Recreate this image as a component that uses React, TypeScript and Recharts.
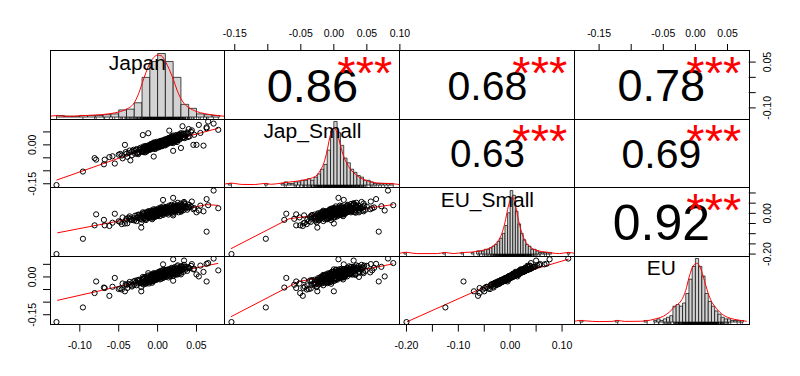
import React from "react";
import { ComposedChart, XAxis, YAxis, Scatter, Line, ReferenceArea } from "recharts";

// monthly returns, one entry per observation (same order in every array)
const japan = [
  -0.130, -0.096, -0.081, -0.079, -0.055, -0.069, -0.062, -0.068, -0.042, -0.021,
  0.072, 0.078, 0.065, 0.063, 0.053, 0.063, 0.059, 0.046, 0.050, 0.032,
  0.020, 0.007, 0.034, -0.019, -0.012, 0.020, -0.050, -0.046, -0.058, 0.044,
  0.055, 0.040, -0.035, 0.015, -0.005, 0.030,
  -0.048, -0.045, -0.041, -0.039, -0.036, -0.033, -0.031, -0.029, -0.027, -0.026,
  -0.024, -0.022, -0.021, -0.019, -0.018, -0.018, -0.017, -0.016, -0.015, -0.015,
  -0.014, -0.013, -0.012, -0.012, -0.011, -0.010, -0.009, -0.009, -0.008, -0.008,
  -0.007, -0.007, -0.006, -0.005, -0.005, -0.004, -0.004, -0.003, -0.003, -0.002,
  -0.002, -0.001, -0.001, 0.000, 0.001, 0.001, 0.002, 0.002, 0.003, 0.003,
  0.004, 0.004, 0.005, 0.005, 0.006, 0.006, 0.007, 0.007, 0.008, 0.008,
  0.009, 0.009, 0.010, 0.010, 0.011, 0.011, 0.012, 0.013, 0.013, 0.014,
  0.015, 0.015, 0.016, 0.017, 0.017, 0.018, 0.018, 0.019, 0.019, 0.020,
  0.020, 0.021, 0.022, 0.023, 0.024, 0.025, 0.025, 0.026, 0.027, 0.028,
  0.028, 0.029, 0.030, 0.032, 0.034, 0.036, 0.038, 0.039, 0.043, 0.047,
  -0.037, -0.030, -0.025, -0.023, -0.020, -0.017, -0.016, -0.014, -0.013, -0.011,
  -0.010, -0.009, -0.008, -0.006, -0.005, -0.004, -0.003, -0.002, -0.001, 0.000,
  0.001, 0.002, 0.003, 0.004, 0.005, 0.006, 0.007, 0.008, 0.009, 0.010,
  0.011, 0.012, 0.013, 0.014, 0.016, 0.017, 0.018, 0.019, 0.021, 0.022,
  0.023, 0.024, 0.026, 0.027, 0.029, 0.031, 0.033, 0.035, 0.039, 0.041,
  -0.028, -0.026, -0.022, -0.019, -0.018, -0.016, -0.015, -0.013, -0.012, -0.010,
  -0.009, -0.008, -0.007, -0.006, -0.005, -0.004, -0.003, -0.002, -0.001, 0.000,
  0.001, 0.002, 0.003, 0.004, 0.005, 0.006, 0.007, 0.008, 0.009, 0.010,
  0.011, 0.012, 0.013, 0.014, 0.015, 0.016, 0.017, 0.018, 0.020, 0.021,
  0.022, 0.024, 0.025, 0.027, 0.028, 0.030, 0.033, 0.036, -0.033, -0.040,
];

const japSmall = [
  -0.155, -0.103, -0.051, -0.057, -0.072, -0.075, -0.047, -0.057, 0.000, -0.025,
  0.082, 0.058, 0.090, 0.068, 0.077, 0.064, -0.003, 0.000, 0.000, 0.072,
  0.007, 0.015, 0.030, 0.038, 0.045, -0.023, -0.038, -0.041, -0.044, 0.056,
  0.046, 0.061, -0.060, 0.055, -0.045, -0.012,
  -0.035, -0.052, -0.028, -0.046, -0.022, -0.040, -0.019, -0.034, -0.016, -0.030,
  -0.029, -0.011, -0.026, -0.024, -0.006, -0.028, -0.013, -0.020, -0.004, -0.019,
  -0.025, -0.009, -0.016, -0.002, -0.018, -0.012, -0.003, -0.017, -0.008, 0.004,
  -0.014, -0.002, -0.011, 0.006, -0.006, -0.015, 0.001, -0.004, 0.009, -0.009,
  0.003, -0.001, 0.012, -0.007, 0.005, -0.003, 0.010, -0.008, 0.002, 0.014,
  -0.002, 0.008, 0.000, 0.016, -0.005, 0.006, 0.011, 0.003, -0.001, 0.018,
  0.007, 0.001, 0.013, 0.022, 0.006, 0.019, 0.010, 0.024, 0.004, 0.015,
  0.027, 0.009, 0.017, 0.029, 0.008, 0.021, 0.033, 0.012, 0.025, 0.016,
  0.036, 0.020, 0.030, 0.014, 0.038, 0.023, 0.011, 0.034, 0.026, 0.041,
  0.020, 0.031, 0.045, 0.027, 0.042, 0.035, 0.048, 0.030, 0.050, 0.039,
  -0.031, -0.023, -0.036, -0.015, -0.022, -0.008, -0.029, -0.011, -0.021, -0.005,
  -0.019, 0.002, -0.012, -0.004, 0.009, -0.008, -0.016, 0.005, -0.004, 0.008,
  -0.010, 0.003, 0.009, -0.006, 0.012, 0.000, 0.017, 0.005, 0.014, -0.002,
  0.015, 0.020, 0.007, 0.026, 0.013, 0.020, 0.010, 0.030, 0.015, 0.028,
  0.035, 0.019, 0.029, 0.038, 0.024, 0.037, 0.044, 0.026, 0.044, 0.033,
  -0.020, -0.033, -0.019, -0.012, -0.024, -0.010, -0.022, -0.006, -0.014, -0.003,
  -0.015, 0.001, -0.009, 0.004, -0.013, 0.003, -0.006, 0.006, -0.009, 0.002,
  0.011, -0.004, 0.006, 0.015, -0.001, 0.009, 0.000, 0.013, 0.004, 0.017,
  0.002, 0.014, 0.021, 0.009, 0.019, 0.024, 0.011, 0.027, 0.022, 0.012,
  0.032, 0.025, 0.017, 0.033, 0.023, 0.039, 0.030, 0.041, -0.026, -0.034,
];

const euSmall = [
  -0.200, -0.125, -0.059, -0.005, -0.002, -0.032, -0.062, -0.059, -0.050, -0.070,
  0.112, 0.025, 0.040, -0.090, 0.014, 0.070, 0.010, 0.020, 0.005, 0.035,
  0.076, 0.066, 0.050, 0.005, 0.010, -0.010, -0.039, -0.053, -0.046, 0.058,
  0.038, 0.029, -0.027, 0.020, -0.010, 0.008,
  -0.042, -0.020, -0.036, -0.049, -0.015, -0.030, -0.024, -0.012, -0.038, -0.021,
  -0.006, -0.028, -0.044, -0.017, -0.002, -0.026, -0.010, 0.004, -0.033, -0.014,
  -0.005, -0.020, 0.009, -0.011, -0.023, 0.001, -0.016, 0.006, -0.007, 0.014,
  -0.029, 0.000, -0.013, 0.008, 0.020, -0.004, -0.019, 0.005, -0.009, 0.011,
  -0.002, 0.017, 0.003, -0.012, 0.009, 0.024, -0.005, 0.002, 0.015, -0.014,
  0.007, 0.029, -0.003, 0.012, 0.004, 0.019, -0.008, 0.034, 0.010, 0.006,
  0.022, -0.001, 0.014, 0.026, 0.008, 0.032, 0.000, 0.017, 0.025, -0.006,
  0.011, 0.038, 0.007, 0.021, 0.013, 0.042, 0.003, 0.028, 0.016, -0.002,
  0.030, 0.019, 0.045, 0.009, 0.024, 0.035, 0.014, 0.052, 0.005, 0.027,
  0.039, 0.016, 0.048, 0.022, 0.056, 0.031, 0.018, 0.044, 0.033, 0.026,
  -0.022, -0.035, -0.018, -0.009, -0.031, -0.024, -0.015, 0.002, -0.008, -0.018,
  -0.003, -0.010, 0.010, -0.022, -0.006, 0.007, 0.013, -0.015, 0.004, 0.010,
  -0.009, 0.020, 0.001, 0.016, 0.006, 0.026, -0.002, 0.012, 0.003, 0.018,
  0.023, 0.005, 0.014, 0.029, 0.009, 0.035, 0.019, 0.008, 0.026, 0.013,
  0.033, 0.021, 0.040, 0.017, 0.029, 0.038, 0.015, 0.046, 0.030, 0.041,
  -0.025, -0.008, -0.020, -0.012, 0.000, -0.029, -0.007, -0.016, 0.006, -0.013,
  -0.001, -0.020, 0.009, -0.005, 0.003, -0.011, 0.018, 0.002, -0.006, 0.008,
  -0.003, 0.012, 0.022, 0.000, 0.015, 0.004, 0.024, 0.009, 0.017, 0.002,
  0.013, 0.027, 0.010, 0.020, 0.004, 0.016, 0.030, 0.011, 0.023, 0.036,
  0.007, 0.028, 0.018, 0.034, 0.025, 0.012, 0.039, 0.024, -0.033, -0.026,
];

const eu = [
  -0.179, -0.121, -0.064, -0.018, -0.004, -0.042, -0.075, -0.044, -0.057, -0.057,
  0.073, 0.026, 0.055, -0.018, 0.002, 0.052, 0.020, 0.030, 0.010, 0.040,
  0.070, 0.050, 0.065, 0.000, 0.015, -0.015, -0.048, -0.050, -0.039, 0.051,
  0.045, 0.036, -0.031, 0.018, -0.013, 0.010,
  -0.046, -0.026, -0.029, -0.044, -0.020, -0.034, -0.018, -0.015, -0.033, -0.025,
  -0.011, -0.022, -0.040, -0.020, -0.007, -0.030, -0.008, 0.000, -0.027, -0.016,
  -0.012, -0.015, 0.006, -0.006, -0.026, -0.003, -0.011, 0.002, -0.010, 0.009,
  -0.023, 0.004, -0.016, 0.012, 0.015, -0.008, -0.014, 0.001, -0.005, 0.014,
  -0.006, 0.011, 0.007, -0.009, 0.005, 0.020, -0.001, 0.006, 0.018, -0.010,
  0.003, 0.024, -0.007, 0.015, 0.009, 0.014, -0.004, 0.028, 0.006, 0.010,
  0.025, 0.003, 0.010, 0.021, 0.012, 0.027, 0.005, 0.013, 0.029, -0.002,
  0.016, 0.031, 0.004, 0.024, 0.018, 0.036, 0.008, 0.022, 0.011, 0.004,
  0.035, 0.026, 0.039, 0.013, 0.020, 0.042, 0.009, 0.046, 0.012, 0.033,
  0.034, 0.023, 0.041, 0.029, 0.048, 0.037, 0.024, 0.039, 0.044, 0.032,
  -0.028, -0.030, -0.014, -0.016, -0.026, -0.021, -0.019, -0.002, -0.004, -0.020,
  -0.009, -0.006, 0.007, -0.018, -0.002, 0.003, 0.008, -0.011, 0.009, 0.005,
  -0.005, 0.016, -0.003, 0.012, 0.011, 0.022, 0.003, 0.016, -0.001, 0.013,
  0.028, 0.002, 0.019, 0.025, 0.014, 0.030, 0.015, 0.013, 0.031, 0.009,
  0.028, 0.027, 0.035, 0.021, 0.024, 0.043, 0.020, 0.040, 0.036, 0.034,
  -0.022, -0.013, -0.024, -0.008, -0.005, -0.025, -0.010, -0.013, 0.002, -0.017,
  0.003, -0.015, 0.005, -0.009, 0.007, -0.007, 0.013, -0.002, -0.010, 0.012,
  0.001, 0.008, 0.019, 0.004, 0.011, 0.000, 0.020, 0.013, 0.021, 0.006,
  0.009, 0.023, 0.014, 0.024, 0.009, 0.012, 0.026, 0.016, 0.019, 0.032,
  0.011, 0.033, 0.014, 0.029, 0.030, 0.017, 0.033, 0.029, -0.038, -0.032,
];

const names = ["Japan", "Jap_Small", "EU_Small", "EU"];

// histogram bar heights on the density scale (tallest bar = 40)
const japanBinStart = -0.13;
const japanBinWidth = 0.01;
const japanBars = [1, 0.5, 0.5, 1, 1, 1, 1.5, 2, 4.5, 5, 9, 25, 35, 40, 35, 25, 8, 5.5, 2, 1.5, 1];

const japSmallBinStart = -0.16;
const japSmallBinWidth = 0.005;
const japSmallBars = [
  1, 0, 0, 0, 0, 0, 0, 0, 0, 0, 0, 1, 0, 0, 0, 0,
  1, 2, 1, 1, 2, 2, 3, 3, 4, 3, 5, 7, 10, 13, 22, 34, 40, 33, 25, 17, 14, 10, 8, 6, 5, 3, 3, 2, 1, 1, 1, 1, 1, 1,
];

const euSmallBinStart = -0.205;
const euSmallBinWidth = 0.005;
const euSmallBars = [
  1, 0, 0, 0, 0, 0, 0, 0, 0, 0, 0, 0, 0, 0, 0, 1, 0, 0, 0, 0, 0, 0, 1, 0, 0, 0,
  1, 0, 2, 2, 2, 3, 3, 4, 5, 6, 8, 10, 13, 18, 26, 40, 37, 27, 19, 13, 9, 6, 5, 3, 3, 2, 1, 1, 1, 1, 1,
  0, 0, 0, 0, 0, 0, 1,
];

const euBinStart = -0.18;
const euBinWidth = 0.005;
const euBars = [
  1, 0, 0, 0, 0, 0, 0, 0, 0, 0, 0, 1, 0, 0, 0, 0, 0, 0, 0, 0,
  1, 0, 0, 1, 2, 1, 2, 3, 4, 10, 11, 10, 12, 18, 27, 35, 40, 35, 29, 18, 13, 10, 7, 5, 3, 2, 2, 1, 1, 1, 1,
];

// kernel density curves [x, height on the same scale as the bars]
const japanDens = [
  [-0.14, 0.4], [-0.13, 0.9], [-0.12, 0.6], [-0.11, 0.5], [-0.1, 0.8], [-0.09, 1.0], [-0.08, 1.3],
  [-0.07, 1.6], [-0.06, 2.2], [-0.05, 3.2], [-0.04, 5.0], [-0.03, 9.0], [-0.025, 14], [-0.02, 21],
  [-0.015, 28], [-0.01, 34], [-0.005, 37.5], [0, 39], [0.005, 38.5], [0.01, 35], [0.015, 30],
  [0.02, 24], [0.025, 17], [0.03, 11.5], [0.035, 8], [0.04, 6], [0.05, 3.5], [0.06, 2.2],
  [0.07, 1.4], [0.08, 0.8], [0.09, 0.3],
];
const japSmallDens = [
  [-0.17, 0.3], [-0.16, 1.0], [-0.155, 1.2], [-0.15, 1.0], [-0.14, 0.4], [-0.12, 0.3], [-0.105, 1.0],
  [-0.095, 0.5], [-0.085, 0.9], [-0.075, 1.5], [-0.065, 2.0], [-0.055, 2.5], [-0.045, 3.2],
  [-0.035, 4.2], [-0.025, 6.5], [-0.02, 9.5], [-0.015, 14], [-0.01, 22], [-0.005, 32], [0, 36],
  [0.005, 33], [0.01, 25], [0.015, 18], [0.02, 13.5], [0.025, 10], [0.03, 7.8], [0.035, 6],
  [0.04, 4.5], [0.05, 2.8], [0.06, 1.6], [0.07, 1.2], [0.08, 1.0], [0.09, 0.8], [0.1, 0.3],
];
const euSmallDens = [
  [-0.215, 0.3], [-0.205, 1.0], [-0.2, 1.1], [-0.195, 0.9], [-0.18, 0.3], [-0.14, 0.3], [-0.125, 1.0],
  [-0.11, 0.3], [-0.09, 1.0], [-0.075, 1.2], [-0.065, 1.6], [-0.055, 2.2], [-0.045, 3.0],
  [-0.035, 4.5], [-0.025, 7.5], [-0.02, 10], [-0.015, 14], [-0.01, 20], [-0.005, 28], [0, 34],
  [0.004, 36], [0.01, 31], [0.015, 23], [0.02, 16], [0.025, 11], [0.03, 7.5], [0.035, 5.5],
  [0.04, 4.0], [0.05, 2.4], [0.06, 1.6], [0.07, 1.2], [0.08, 0.7], [0.095, 0.3], [0.112, 1.0], [0.125, 0.4],
];
const euDens = [
  [-0.19, 0.3], [-0.18, 1.0], [-0.17, 0.7], [-0.15, 0.3], [-0.13, 0.4], [-0.121, 1.0], [-0.11, 0.4],
  [-0.085, 0.5], [-0.07, 1.2], [-0.06, 2.2], [-0.05, 3.6], [-0.04, 6.5], [-0.035, 8.5], [-0.03, 10.5],
  [-0.025, 12], [-0.02, 15], [-0.015, 20], [-0.01, 28], [-0.005, 34], [0.002, 37], [0.008, 34],
  [0.012, 29], [0.02, 18], [0.025, 13], [0.03, 10], [0.04, 5.5], [0.05, 3], [0.06, 1.8], [0.07, 1.0], [0.08, 0.5],
];

// lowess smooths [x, y]
const smoothJapanJapSmall = [[-0.13, -0.136], [-0.06, -0.062], [0, 0], [0.04, 0.034], [0.078, 0.064]];
const smoothJapanEuSmall = [[-0.129, -0.096], [-0.06, -0.045], [0, -0.004], [0.04, 0.025], [0.063, 0.043], [0.078, 0.039]];
const smoothJapanEu = [[-0.129, -0.093], [-0.06, -0.045], [0, -0.002], [0.04, 0.03], [0.078, 0.054]];
const smoothJapSmallEuSmall = [[-0.156, -0.174], [-0.068, -0.027], [-0.03, -0.01], [0, 0.004], [0.04, 0.02], [0.09, 0.043]];
const smoothJapSmallEu = [[-0.156, -0.158], [-0.053, -0.018], [0, 0.006], [0.09, 0.052]];
const smoothEuSmallEu = [[-0.199, -0.178], [-0.06, -0.05], [0, 0.002], [0.113, 0.071]];

// correlations, upper triangle in order (1,2) (1,3) (1,4) (2,3) (2,4) (3,4)
const corValues = ["0.86", "0.68", "0.78", "0.63", "0.69", "0.92"];
const corStars = ["***", "***", "***", "***", "***", "***"];

// axis ticks and which of them carry a label
const japanTicks = [-0.1, -0.05, 0, 0.05];
const japanBottomLabels = [-0.1, -0.05, 0, 0.05];
const japanRightLabels = [0.05, -0.1];
const japSmallTopTicks = [-0.15, -0.1, -0.05, 0, 0.05, 0.1];
const japSmallTopLabels = [-0.15, -0.05, 0, 0.05, 0.1];
const japSmallLeftTicks = [-0.15, -0.1, -0.05, 0, 0.05];
const japSmallLeftLabels = [0, -0.15];
const euSmallTicks = [-0.2, -0.15, -0.1, -0.05, 0, 0.05, 0.1];
const euSmallBottomLabels = [-0.2, -0.1, 0, 0.1];
const euSmallRightLabels = [0, -0.2];
const euTicks = [-0.15, -0.1, -0.05, 0, 0.05];
const euTopLabels = [-0.15, -0.05, 0, 0.05];
const euLeftLabels = [0, -0.15];

const W = 174.75;
const H = 68.6;
const X0 = 50;
const Y0 = 50.5;
const PAD = 40;
const AXIS = 20;
const FONT = "'Liberation Sans', Arial, Helvetica, sans-serif";
const corFontSize = [47, 41, 45, 38.5, 41, 50];

const series = [japan, japSmall, euSmall, eu];

// R pads the data range by 4% on each side
function padRange(v: number[]): [number, number] {
  const lo = Math.min(...v);
  const hi = Math.max(...v);
  const d = (hi - lo) * 0.04;
  return [lo - d, hi + d];
}
const domains = series.map(padRange);

const hists = [
  { start: japanBinStart, width: japanBinWidth, bars: japanBars, dens: japanDens },
  { start: japSmallBinStart, width: japSmallBinWidth, bars: japSmallBars, dens: japSmallDens },
  { start: euSmallBinStart, width: euSmallBinWidth, bars: euSmallBars, dens: euSmallDens },
  { start: euBinStart, width: euBinWidth, bars: euBars, dens: euDens },
];

const smooths: Record<string, number[][]> = {
  "1-0": smoothJapanJapSmall,
  "2-0": smoothJapanEuSmall,
  "3-0": smoothJapanEu,
  "2-1": smoothJapSmallEuSmall,
  "3-1": smoothJapSmallEu,
  "3-2": smoothEuSmallEu,
};
const corOrder = ["0-1", "0-2", "0-3", "1-2", "1-3", "2-3"];

type AxisSpec = { side: "top" | "bottom" | "left" | "right"; ticks: number[]; labels: number[] };

function xAxisFor(row: number, col: number): AxisSpec | null {
  if (row === 0 && col === 1) return { side: "top", ticks: japSmallTopTicks, labels: japSmallTopLabels };
  if (row === 0 && col === 3) return { side: "top", ticks: euTicks, labels: euTopLabels };
  if (row === 3 && col === 0) return { side: "bottom", ticks: japanTicks, labels: japanBottomLabels };
  if (row === 3 && col === 2) return { side: "bottom", ticks: euSmallTicks, labels: euSmallBottomLabels };
  return null;
}

function yAxisFor(row: number, col: number): AxisSpec | null {
  if (col === 0 && row === 1) return { side: "left", ticks: japSmallLeftTicks, labels: japSmallLeftLabels };
  if (col === 0 && row === 3) return { side: "left", ticks: euTicks, labels: euLeftLabels };
  if (col === 3 && row === 0) return { side: "right", ticks: japanTicks, labels: japanRightLabels };
  if (col === 3 && row === 2) return { side: "right", ticks: euSmallTicks, labels: euSmallRightLabels };
  return null;
}

function tickRenderer(side: string, labels: number[]) {
  return (p: any) => {
    const v = Number(p.payload.value);
    if (!labels.some((l) => Math.abs(l - v) < 1e-9)) return <g />;
    const t = v.toFixed(2);
    const common = { fontSize: 10.5, fontFamily: FONT, fill: "#000", textAnchor: "middle" as const };
    if (side === "top") return <text x={p.x} y={p.y - 7.2} {...common}>{t}</text>;
    if (side === "bottom") return <text x={p.x} y={p.y + 17.8} {...common}>{t}</text>;
    const bx = side === "left" ? p.x - 7 : p.x + 15.4;
    return (
      <text x={bx} y={p.y} transform={`rotate(-90 ${bx} ${p.y})`} {...common}>
        {t}
      </text>
    );
  };
}

const ring = (p: any) => <circle cx={p.cx} cy={p.cy} r={2.6} fill="none" stroke="#000" strokeWidth={1} />;
const rugTick = (p: any) => <line x1={p.cx} x2={p.cx} y1={p.cy} y2={p.cy - 2.5} stroke="#000" strokeWidth={0.7} />;

function textShape(size: number, color: string, dy: string) {
  return (p: any) => (
    <text x={p.cx} y={p.cy} dy={dy} textAnchor="middle" fontSize={size} fontFamily={FONT} fill={color}>
      {p.payload.label}
    </text>
  );
}

function Panel({ row, col }: { row: number; col: number }) {
  const xDom = domains[col];
  const diag = row === col;
  const hist = hists[col];
  const barMax = Math.max(...hist.bars);
  const yDom: [number, number] = diag ? [-0.04 * barMax, 1.04 * barMax] : domains[row];
  const xAx = xAxisFor(row, col);
  const yAx = yAxisFor(row, col);

  const margin = {
    top: xAx && xAx.side === "top" ? PAD - AXIS : PAD,
    bottom: xAx && xAx.side === "bottom" ? PAD - AXIS : PAD,
    left: yAx && yAx.side === "left" ? PAD - AXIS : PAD,
    right: yAx && yAx.side === "right" ? PAD - AXIS : PAD,
  };
  // the hidden unit axes sit on the side away from the visible axis
  const uX = xAx && xAx.side === "top" ? "bottom" : "top";
  const uY = yAx && yAx.side === "right" ? "left" : "right";

  const content: React.ReactNode[] = [];
  if (diag) {
    hist.bars.forEach((h, i) => {
      if (h <= 0) return;
      content.push(
        <ReferenceArea
          key={`b${i}`}
          xAxisId="v"
          yAxisId="v"
          x1={hist.start + i * hist.width}
          x2={hist.start + (i + 1) * hist.width}
          y1={0}
          y2={h}
          fill="#D3D3D3"
          fillOpacity={1}
          stroke="#000"
          strokeWidth={0.7}
          ifOverflow="visible"
        />
      );
    });
    content.push(
      <Line
        key="dens"
        xAxisId="v"
        yAxisId="v"
        data={hist.dens.map(([x, y]) => ({ x, y }))}
        dataKey="y"
        type="monotone"
        stroke="#FF0000"
        strokeWidth={1}
        dot={false}
        isAnimationActive={false}
      />
    );
    content.push(
      <Scatter
        key="rug"
        xAxisId="v"
        yAxisId="v"
        data={series[col].map((x) => ({ x, y: yDom[0] }))}
        shape={rugTick}
        isAnimationActive={false}
      />
    );
    content.push(
      <Scatter
        key="name"
        xAxisId="u"
        yAxisId="u"
        data={[{ x: 0.5, y: 0.8333, label: names[col] }]}
        shape={textShape(21, "#000", "0.36em")}
        isAnimationActive={false}
      />
    );
  } else if (row > col) {
    content.push(
      <Scatter
        key="pts"
        xAxisId="v"
        yAxisId="v"
        data={series[col].map((x, i) => ({ x, y: series[row][i] }))}
        shape={ring}
        isAnimationActive={false}
      />
    );
    content.push(
      <Line
        key="smooth"
        xAxisId="v"
        yAxisId="v"
        data={smooths[`${row}-${col}`].map(([x, y]) => ({ x, y }))}
        dataKey="y"
        type="linear"
        stroke="#FF0000"
        strokeWidth={1}
        dot={false}
        isAnimationActive={false}
      />
    );
  } else {
    const k = corOrder.indexOf(`${row}-${col}`);
    content.push(
      <Scatter
        key="cor"
        xAxisId="u"
        yAxisId="u"
        data={[{ x: 0.5, y: 0.5, label: corValues[k] }]}
        shape={textShape(corFontSize[k], "#000", "0.36em")}
        isAnimationActive={false}
      />
    );
    content.push(
      <Scatter
        key="stars"
        xAxisId="u"
        yAxisId="u"
        data={[{ x: 0.8, y: 0.8, label: corStars[k] }]}
        shape={textShape(47, "#FF0000", "0.52em")}
        isAnimationActive={false}
      />
    );
  }

  return (
    <div style={{ position: "absolute", left: X0 + col * W - PAD, top: Y0 + row * H - PAD }}>
      <ComposedChart width={W + 2 * PAD} height={H + 2 * PAD} margin={margin}>
        <XAxis
          xAxisId="v"
          dataKey="x"
          type="number"
          domain={xDom}
          allowDataOverflow
          hide={!xAx}
          orientation={xAx ? (xAx.side as "top" | "bottom") : "bottom"}
          height={AXIS}
          ticks={xAx ? xAx.ticks : undefined}
          interval={0}
          tick={xAx ? tickRenderer(xAx.side, xAx.labels) : false}
          tickSize={7}
          tickMargin={0}
          axisLine={false}
          tickLine={{ stroke: "#000", strokeWidth: 1 }}
        />
        <YAxis
          yAxisId="v"
          dataKey="y"
          type="number"
          domain={yDom}
          allowDataOverflow
          hide={!yAx}
          orientation={yAx ? (yAx.side as "left" | "right") : "left"}
          width={AXIS}
          ticks={yAx ? yAx.ticks : undefined}
          interval={0}
          tick={yAx ? tickRenderer(yAx.side, yAx.labels) : false}
          tickSize={7}
          tickMargin={0}
          axisLine={false}
          tickLine={{ stroke: "#000", strokeWidth: 1 }}
        />
        <XAxis xAxisId="u" dataKey="x" type="number" domain={[0, 1]} allowDataOverflow hide height={0} orientation={uX} />
        <YAxis yAxisId="u" dataKey="y" type="number" domain={[0, 1]} allowDataOverflow hide width={0} orientation={uY} />
        {content}
      </ComposedChart>
    </div>
  );
}

export default function App() {
  const cells: { row: number; col: number }[] = [];
  for (let r = 0; r < 4; r++) for (let c = 0; c < 4; c++) cells.push({ row: r, col: c });
  return (
    <div
      style={{
        position: "absolute",
        left: 0,
        top: 0,
        width: 800,
        height: 376,
        background: "#fff",
        overflow: "hidden",
        fontFamily: FONT,
      }}
    >
      {cells.map(({ row, col }) => (
        <Panel key={`p${row}${col}`} row={row} col={col} />
      ))}
      {cells.map(({ row, col }) => (
        <div
          key={`f${row}${col}`}
          style={{
            position: "absolute",
            left: X0 + col * W - 0.5,
            top: Y0 + row * H - 0.5,
            width: W + 1,
            height: H + 1,
            border: "1px solid #000",
            boxSizing: "border-box",
            pointerEvents: "none",
          }}
        />
      ))}
    </div>
  );
}
